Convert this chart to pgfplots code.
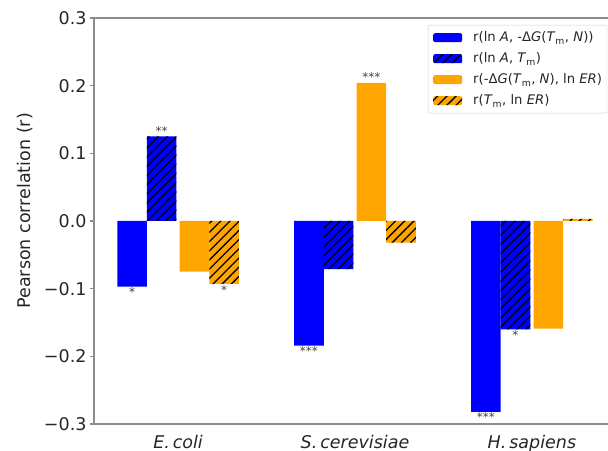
\documentclass[border=0pt]{standalone}
\usepackage{pgfplots}
\pgfplotsset{compat=1.18}
\usepackage{fontspec}
\setmainfont{DejaVu Sans}
\usetikzlibrary{patterns.meta}
\definecolor{mplorange}{RGB}{255,165,0}
\tikzset{hatch/.style={postaction={draw=none,pattern={Lines[angle=45,distance=6.5bp,line width=1.3bp]},pattern color=black}}}
\begin{document}
\begin{tikzpicture}
\useasboundingbox (-94bp,-27bp) rectangle (514bp,424bp);
\clip (-94bp,-27bp) rectangle (514bp,424bp);
\begin{axis}[
  at={(0,0)}, anchor=south west,
  scale only axis, width=522bp, height=406bp,
  xmin=-0.475, xmax=2.475, ymin=-0.3, ymax=0.3,
  xtick={0,1,2},
  xticklabels={\textit{E.\,coli},\textit{S.\,cerevisiae},\textit{H.\,sapiens}},
  ytick={-0.3,-0.2,-0.1,0,0.1,0.2,0.3},
  yticklabels={−0.3,−0.2,−0.1,0.0,0.1,0.2,0.3},
  axis line style={black!45, line width=1.5bp},
  tick align=outside, ytick pos=left,
  xtick style={draw=none},
  ytick style={black!45, line width=1.5bp},
  major tick length=4bp,
  tick label style={font=\fontsize{17.5bp}{21bp}\selectfont, text=black!85},
  xticklabel style={yshift=-4bp},
  ylabel={Pearson correlation (r)},
  ylabel style={font=\fontsize{17.5bp}{21bp}\selectfont, text=black!85, at={(axis description cs:-0.132,0.525)}, anchor=center},
  legend image code/.code={\fill[#1] (0bp,-4.5bp) rectangle (29bp,4.5bp);\path (0bp,-10.5bp) (40bp,10.5bp);},
  legend style={at={(axis description cs:0.6398,0.9828)}, anchor=north west,
    draw=black!20, rounded corners=2bp, fill=white, text=black!85,
    font=\fontsize{13.2bp}{15bp}\selectfont, cells={anchor=west},
    nodes={inner sep=0pt},
    row sep=0pt, inner xsep=5bp, inner ysep=2bp},
]
\addplot[ybar, bar width=0.167, bar shift=-0.26, fill=blue, draw=none]
  coordinates {(0,-0.097) (1,-0.184) (2,-0.282)};
\addlegendentry{r(ln \textit{A}, -Δ\textit{G}(\textit{T}\textsubscript{m}, \textit{N}))}
\addplot[ybar, bar width=0.167, bar shift=-0.093, fill=blue, draw=none, hatch]
  coordinates {(0,0.125) (1,-0.071) (2,-0.160)};
\addlegendentry{r(ln \textit{A}, \textit{T}\textsubscript{m})}
\addplot[ybar, bar width=0.167, bar shift=0.093, fill=mplorange, draw=none]
  coordinates {(0,-0.075) (1,0.204) (2,-0.159)};
\addlegendentry{r(-Δ\textit{G}(\textit{T}\textsubscript{m}, \textit{N}), ln \textit{ER})\hspace{8bp}}
\addplot[ybar, bar width=0.167, bar shift=0.26, fill=mplorange, draw=none, hatch]
  coordinates {(0,-0.093) (1,-0.032) (2,0.003)};
\addlegendentry{r(\textit{T}\textsubscript{m}, ln \textit{ER})}
% significance stars above bars
\addplot[forget plot, only marks, mark=none, nodes near coords, point meta=explicit symbolic,
  every node near coord/.append style={anchor=south, inner sep=1bp, font=\fontsize{12bp}{14bp}\selectfont, text=black!75}]
  coordinates {(-0.093,0.125) [**] (1.093,0.204) [***]};
% significance stars below bars
\addplot[forget plot, only marks, mark=none, nodes near coords, point meta=explicit symbolic,
  every node near coord/.append style={anchor=north, inner sep=1bp, font=\fontsize{12bp}{14bp}\selectfont, text=black!75}]
  coordinates {(-0.26,-0.097) [*] (0.26,-0.093) [*] (0.74,-0.184) [***] (1.74,-0.282) [***] (1.907,-0.160) [*]};
\end{axis}
\end{tikzpicture}
\end{document}
